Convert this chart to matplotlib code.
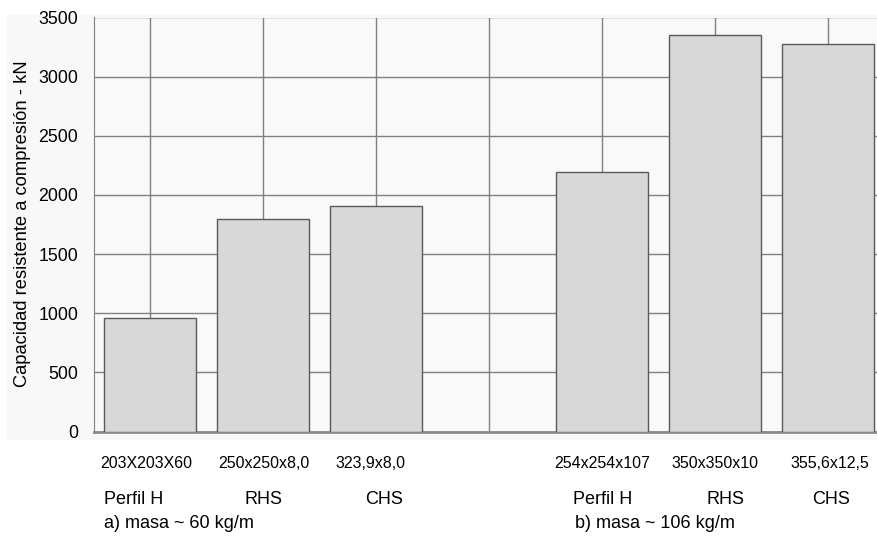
import matplotlib
matplotlib.use("Agg")
import matplotlib.pyplot as plt
from matplotlib.patches import Rectangle

plt.rcParams['font.family'] = ['Liberation Sans', 'DejaVu Sans']

# Data
sizes = ["203X203X60", "250x250x8,0", "323,9x8,0", "", "254x254x107", "350x350x10", "355,6x12,5"]
values = [960, 1800, 1910, None, 2195, 3350, 3275]
types = ["Perfil H", "RHS", "CHS", "Perfil H", "RHS", "CHS"]
groups = ["a) masa ~ 60 kg/m", "b) masa ~ 106 kg/m"]
yticks = [0, 500, 1000, 1500, 2000, 2500, 3000, 3500]
ylabel = "Capacidad resistente a compresión - kN"

W, H = 877, 537
fig = plt.figure(figsize=(W / 100, H / 100), dpi=100)
fig.patch.set_facecolor("white")

def fx(px):
    return px / W

def fy(py):
    return 1 - py / H

# light background panel
fig.patches.append(Rectangle((fx(7), fy(440)), fx(877) - fx(7), fy(15) - fy(440),
                             transform=fig.transFigure, facecolor="#f8f8f8",
                             edgecolor="none", zorder=-5))

left, right = 93.5, 93.5 + 7 * 113
top, bottom = 17.5, 431.5
ax = fig.add_axes([fx(left), fy(bottom), (right - left) / W, (bottom - top) / H])
ax.set_zorder(1)
ax.set_facecolor("#f9f9f9")

xs = [i for i, v in enumerate(values) if v is not None]
vs = [v for v in values if v is not None]
ax.bar(xs, vs, width=0.82, color="#d8d8d8", edgecolor="#5a5a5a", linewidth=1.0, zorder=3)

ax.set_xlim(-0.5, 6.5)
ax.set_ylim(0, 3500)
ax.set_yticks(yticks)
ax.set_yticklabels([str(t) for t in yticks], fontsize=12.8)
ax.set_xticks(range(len(sizes)))
ax.set_xticklabels([])
ax.tick_params(axis="both", length=0, pad=11)
ax.grid(True, color="#808080", linewidth=1.0, zorder=0)
ax.set_axisbelow(True)
for s in ["top", "right"]:
    ax.spines[s].set_visible(False)
ax.spines["left"].set_color("#808080")
ax.spines["bottom"].set_color("#8a8a8a")
ax.spines["bottom"].set_linewidth(2.0)

fig.text(fx(23), fy(224), ylabel, rotation=90, ha="center", va="center", fontsize=13.2)

# category size labels
label_x = [146, 264, 370, 602, 715, 830]
for s, x in zip([s for s in sizes if s], label_x):
    fig.text(fx(x), fy(464), s, ha="center", va="center", fontsize=11.5)

# type labels
type_x = [104, 263, 384, 573, 725, 831]
type_ha = ["left", "center", "center", "left", "center", "center"]
for t, x, ha in zip(types, type_x, type_ha):
    fig.text(fx(x), fy(500), t, ha=ha, va="center", fontsize=13)

for g, x in zip(groups, [104, 575]):
    fig.text(fx(x), fy(523), g, ha="left", va="center", fontsize=13)

fig.savefig("out.png", dpi=100, facecolor=fig.get_facecolor())
